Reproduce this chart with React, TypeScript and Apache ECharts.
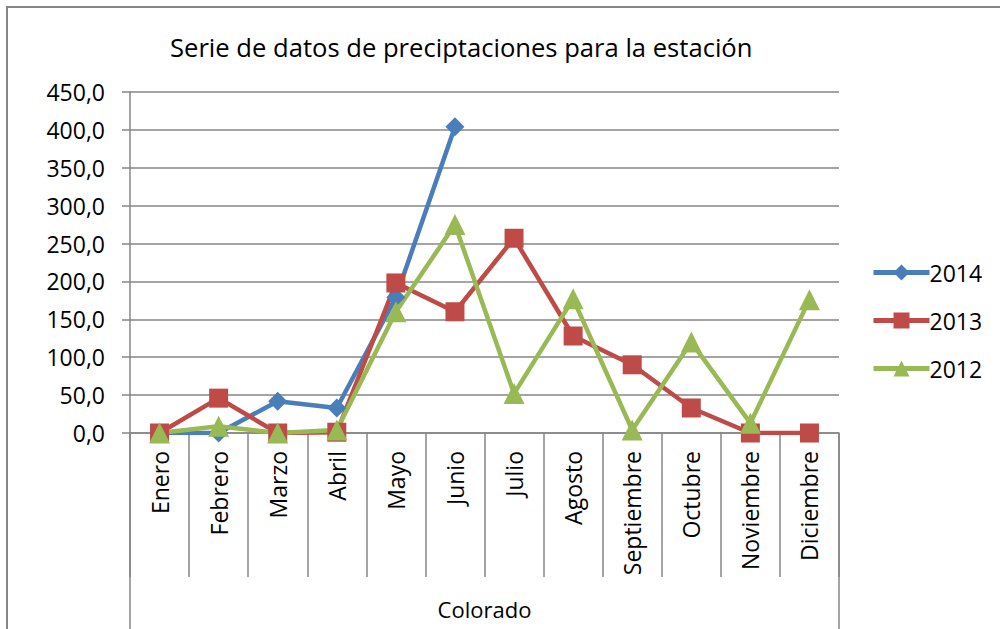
import React, { useEffect, useRef } from "react";
import * as echarts from "echarts";

const months = ["Enero", "Febrero", "Marzo", "Abril", "Mayo", "Junio", "Julio", "Agosto", "Septiembre", "Octubre", "Noviembre", "Diciembre"];
const station = ["Colorado"];
const s2014 = [0, 0, 42, 33, 179, 404, null, null, null, null, null, null];
const s2013 = [0, 46, 0, 1, 198, 160, 257, 128, 90, 33, 0, 0];
const s2012 = [0, 9, 0, 4, 160, 275, 52, 177, 4, 120, 13, 176];
const yTicks = { min: 0, max: 450, interval: 50 };

const FONT = "Open Sans";
const GRAY = "#868686";

export default function App() {
  const ref = useRef<HTMLDivElement>(null);
  useEffect(() => {
    const chart = echarts.init(ref.current!, null, { renderer: "svg" });
    const lineSeries = (name: string, data: (number | null)[], color: string, symbol: string, size: number) => ({
      name,
      type: "line",
      data,
      xAxisIndex: 0,
      symbol,
      symbolSize: size,
      showSymbol: true,
      connectNulls: false,
      lineStyle: { color, width: 4.5 },
      itemStyle: { color },
      emphasis: { disabled: true },
    });
    chart.setOption({
      animation: false,
      backgroundColor: "#ffffff",
      textStyle: { fontFamily: FONT },
      title: {
        text: "Serie de datos de preciptaciones para la estación",
        left: 165,
        top: 29,
        textStyle: { fontFamily: FONT, fontSize: 25.6, fontWeight: "normal", color: "#000" },
      },
      graphic: [
        {
          type: "rect",
          shape: { x: 7, y: 7, width: 1100, height: 800 },
          style: { fill: "none", stroke: GRAY, lineWidth: 2 },
          silent: true,
          z: -10,
        },
      ],
      legend: {
        orient: "vertical",
        left: 866,
        top: 256,
        itemWidth: 56,
        itemHeight: 20,
        itemGap: 25,
        lineStyle: { width: 5 },
        textStyle: { fontFamily: FONT, fontSize: 23, color: "#000", padding: [0, 0, 0, -5] },
        data: ["2014", "2013", "2012"],
      },
      grid: { left: 130, right: 161, top: 92, bottom: 196, containLabel: false },
      xAxis: [
        {
          type: "category",
          data: months,
          boundaryGap: true,
          position: "bottom",
          axisLine: { show: true, lineStyle: { color: GRAY, width: 1.5 } },
          axisTick: { show: true, length: 144, interval: 0, lineStyle: { color: GRAY, width: 1.5 } },
          axisLabel: { interval: 0, rotate: 90, margin: 18, fontFamily: FONT, fontSize: 23, color: "#000" },
          splitLine: { show: false },
        },
        {
          type: "category",
          data: station,
          boundaryGap: true,
          position: "bottom",
          axisLine: { show: false },
          axisTick: { show: true, length: 200, interval: 0, lineStyle: { color: GRAY, width: 1.5 } },
          axisLabel: { interval: 0, margin: 165, fontFamily: FONT, fontSize: 22, color: "#000" },
          splitLine: { show: false },
        },
      ],
      yAxis: {
        type: "value",
        min: yTicks.min,
        max: yTicks.max,
        interval: yTicks.interval,
        axisLine: { show: true, lineStyle: { color: GRAY, width: 1.5 } },
        axisTick: { show: true, length: 8, lineStyle: { color: GRAY, width: 1.5 } },
        axisLabel: {
          margin: 25,
          fontFamily: FONT,
          fontSize: 23,
          color: "#000",
          formatter: (v: number) => v.toFixed(1).replace(".", ","),
        },
        splitLine: { show: true, lineStyle: { color: GRAY, width: 1.5 } },
      },
      series: [
        lineSeries("2014", s2014, "#4A7EBB", "diamond", 19),
        lineSeries("2013", s2013, "#BE4B48", "rect", 19),
        lineSeries("2012", s2012, "#98B954", "triangle", 21),
      ],
    });
    return () => chart.dispose();
  }, []);
  return (
    <div
      ref={ref}
      style={{ position: "fixed", left: 0, top: 0, width: 1000, height: 629, background: "#fff" }}
    />
  );
}
